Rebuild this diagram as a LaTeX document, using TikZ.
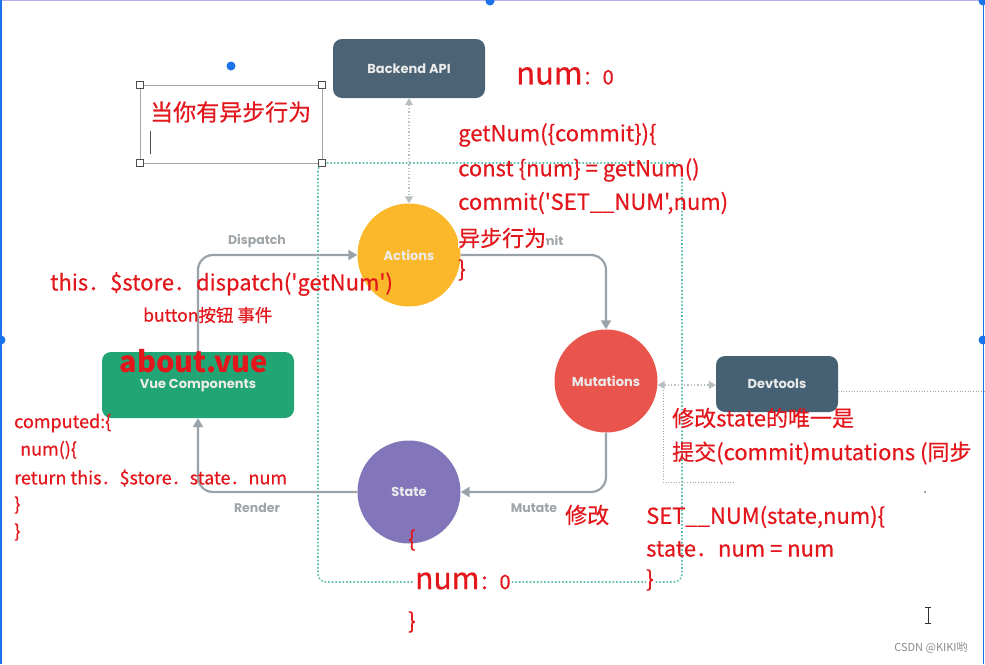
\documentclass[tikz,border=0pt]{standalone}
\usepackage{fontspec}
\newfontfamily\cjk[FakeBold=0.5]{Noto Sans CJK SC}
\newfontfamily\cjkplain{Noto Sans CJK SC}
\newfontfamily\pop{Poppins}
\usetikzlibrary{arrows.meta}
\definecolor{apic}{HTML}{4B6375}
\definecolor{devc}{HTML}{466174}
\definecolor{actc}{HTML}{FBB82B}
\definecolor{mutc}{HTML}{E9544C}
\definecolor{stc}{HTML}{8275B9}
\definecolor{vuec}{HTML}{22A574}
\definecolor{connc}{HTML}{9AA3A9}
\definecolor{lblc}{HTML}{9EA4A8}
\definecolor{tealc}{HTML}{5DBFAE}
\definecolor{redc}{HTML}{E3161C}
\definecolor{bluec}{HTML}{1A73E8}
\tikzset{
  box/.style={draw=none, rounded corners=9pt, text=white!92!black, font=\pop\bfseries\fontsize{13}{15}\selectfont},
  circ/.style={circle, draw=none, minimum size=103pt, inner sep=0pt, text=white!92!black, font=\pop\bfseries\fontsize{13}{15}\selectfont},
  conn/.style={draw=connc, line width=2.2pt, rounded corners=15pt, -{Triangle[length=9pt,width=10pt]}},
  dotarr/.style={draw=connc!70, line width=1.3pt, dotted, {Triangle[length=7pt,width=8pt]}-{Triangle[length=7pt,width=8pt]}},
  lbl/.style={text=lblc, font=\pop\bfseries\fontsize{12.5}{14}\selectfont},
  code/.style={anchor=west, text=redc, inner sep=0pt, font=\cjk\fontsize{22}{26}\selectfont},
  codes/.style={anchor=west, text=redc, inner sep=0pt, font=\cjk\fontsize{18}{22}\selectfont},
  handle/.style={draw=black!70, fill=white, minimum size=7pt, inner sep=0pt, line width=0.6pt},
  bdot/.style={circle, fill=bluec, minimum size=9pt, inner sep=0pt}
}
\begin{document}
\begin{tikzpicture}[x=1pt,y=-1pt]
\useasboundingbox (0,0) rectangle (985,664);
\fill[white] (0,0) rectangle (985,664);
% frame
\draw[black!25!blue!30, line width=1pt] (0,0.5) -- (985,0.5);
\draw[bluec, line width=1.5pt] (1,0) -- (1,664);
\draw[bluec, line width=1.5pt] (983.5,0) -- (983.5,664);
\node[bdot] (d1) at (490,1) {};
\node[bdot] (d2) at (983,1) {};
\node[bdot] (d3) at (1,340) {};
\node[bdot] (d4) at (983,340) {};
\node[bdot] (d5) at (231,66) {};

% green dotted group
\draw[tealc, line width=1.6pt, dotted, rounded corners=8pt] (318,163) rectangle (682,582);

% grey dotted selection near devtools
\coordinate (g1) at (663,390);
\coordinate (g2) at (663,482);
\coordinate (g3) at (735,482);
\coordinate (g4) at (838,391);
\coordinate (g5) at (985,391);
\draw[black!35, line width=0.7pt, dotted] (g1) -- (g2) -- (g3);
\draw[black!35, line width=0.7pt, dotted] (g4) -- (g5);
\fill[black!60] (925,492) circle (1pt);

% text box with handles
\draw[black!35, line width=0.8pt] (140,85) rectangle (322,163);
\node[handle] (h1) at (140,85) {};
\node[handle] (h2) at (322,85) {};
\node[handle] (h3) at (140,163) {};
\node[handle] (h4) at (322,163) {};
\node[anchor=west, text=redc, inner sep=0pt, font=\cjk\fontsize{23}{26}\selectfont] (async) at (150,112) {当你有异步行为};
\draw[black!70, line width=1pt] (150.5,131) -- (150.5,154);

% nodes
\node[box, fill=apic, minimum width=152pt, minimum height=59pt] (api) at (409,68.5) {Backend API};
\node[box, fill=devc, minimum width=122pt, minimum height=56pt] (dev) at (777,384) {Devtools};
\node[box, fill=vuec, minimum width=192pt, minimum height=66pt] (vue) at (198,385) {};
\node[text=white!92!black, font=\pop\bfseries\fontsize{13}{15}\selectfont] (vuet) at (198,386) {Vue Components};
\node[circ, fill=actc] (act) at (409,255) {Actions};
\node[circ, fill=mutc] (mut) at (606,381) {Mutations};
\node[circ, fill=stc] (st) at (409,492) {State};

% connectors
\draw[conn] (vue.north) |- (act.west);
\draw[conn] (act.east) -| (mut.north);
\draw[conn] (mut.south) |- (st.east);
\draw[conn] (st.west) -| (vue.south);
\draw[dotarr] (api.south) -- (act.north);
\coordinate (me) at ([yshift=-4pt]mut.east);
\draw[dotarr] (me) -- (dev.west |- me);

% labels
\node[lbl] (ldisp) at (257,241) {Dispatch};
\node[lbl] (lcom) at (537,241) {Commit};
\node[lbl] (lmut) at (534,508) {Mutate};
\node[lbl] (lren) at (257,508) {Render};

% red annotations
\node[anchor=west, text=redc, inner sep=0pt, font=\cjk\fontsize{31}{36}\selectfont] (num1) at (516,76) {num\fontsize{20}{24}\selectfont：0};
\node[code] (c1) at (458,135) {getNum(\{commit\})\{};
\node[code] (c2) at (458,170) {const \{num\} = getNum()};
\node[code] (c3) at (458,203) {commit('SET\_\_NUM',num)};
\node[code, fill=white] (c4) at (458,238) {异步行为};
\node[code] (c5) at (458,270) {\}};

\node[code] (disp) at (50,284) {this．\$store．dispatch('getNum')};
\node[anchor=west, text=redc, inner sep=0pt, font=\cjk\fontsize{17.5}{20}\selectfont] (btn) at (143,315) {button按钮 事件};
\node[text=redc, inner sep=0pt, font=\cjkplain\bfseries\fontsize{29}{32}\selectfont] (about) at (194,361) {about.vue};

\node[codes] (k1) at (14,423) {computed:\{};
\node[codes] (k2) at (20,450) {num()\{};
\node[codes] (k3) at (14,478) {return this．\$store．state．num};
\node[codes] (k4) at (14,505) {\}};
\node[codes] (k5) at (14,532) {\}};

\node[anchor=west, text=redc, inner sep=0pt, font=\cjk\fontsize{22}{24}\selectfont] (m1) at (672,418) {修改state的唯一是};
\node[anchor=west, text=redc, inner sep=0pt, font=\cjk\fontsize{22}{24}\selectfont] (m2) at (672,453) {提交(commit)mutations (同步};

\node[code] (xg) at (565,515) {修改};
\node[code] (s1) at (646,517) {SET\_\_NUM(state,num)\{};
\node[code] (s2) at (646,549) {state．num = num};
\node[code, fill=white] (s3) at (646,580) {\}};

\node[code] (b1) at (408,540) {\{};
\node[anchor=west, text=redc, inner sep=1pt, fill=white, font=\cjk\fontsize{30}{34}\selectfont] (b2) at (414,581) {num\fontsize{20}{24}\selectfont：0};
\node[code] (b3) at (408,622) {\}};

% cursor and watermark
\draw[black!80, line width=0.9pt] (928,607) -- (928,623) (925,607) -- (931,607) (925,623) -- (931,623);
\node[text=black!45, font=\cjkplain\fontsize{11}{13}\selectfont] (wm) at (931,648) {CSDN @KIKI哟};
\end{tikzpicture}
\end{document}
